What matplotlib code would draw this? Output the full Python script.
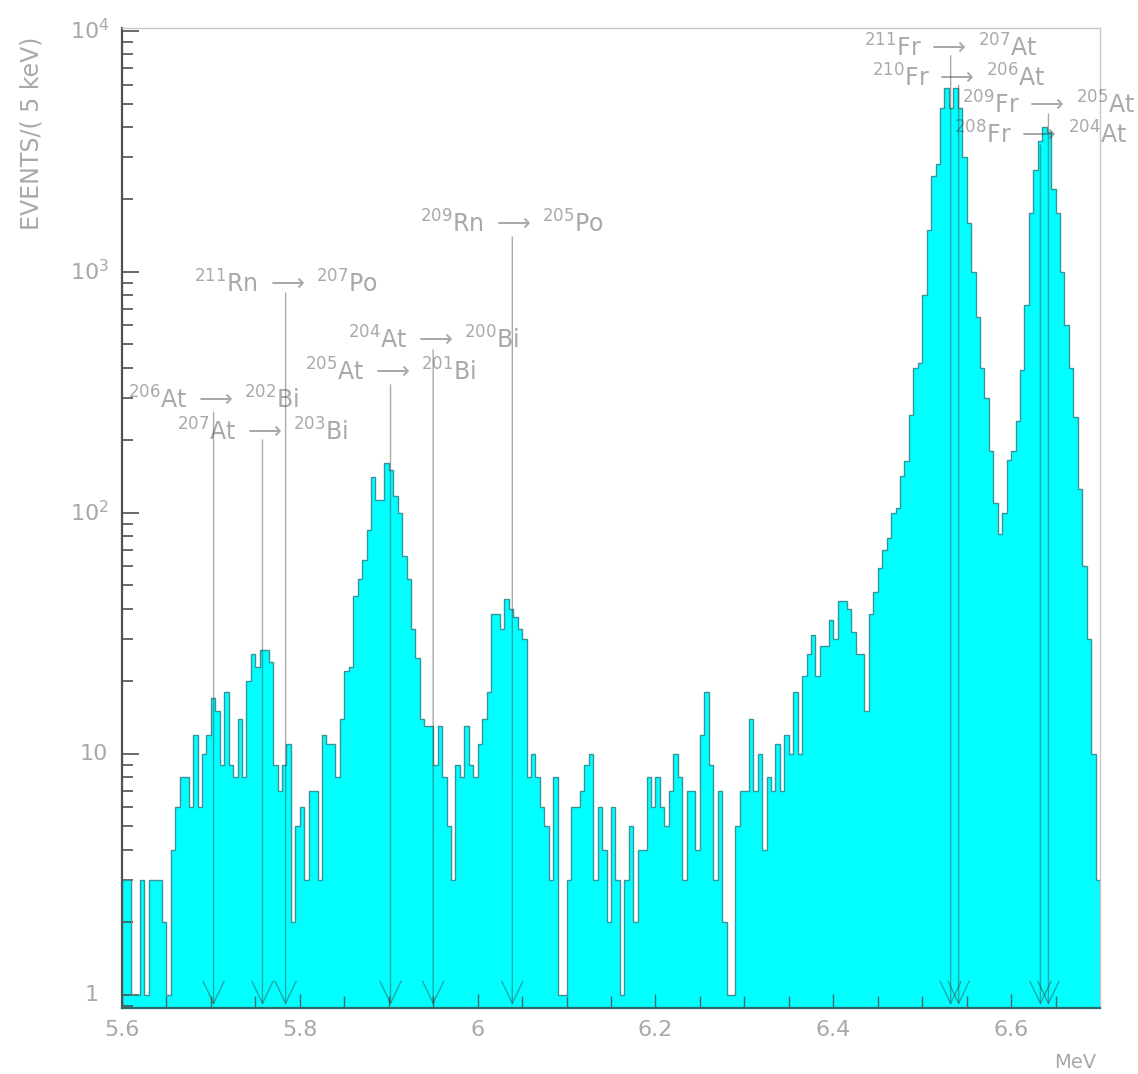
import numpy as np
import matplotlib
matplotlib.use("Agg")
import matplotlib.pyplot as plt
from matplotlib.transforms import blended_transform_factory

# histogram: 5 keV bins from 5.6 to 6.7 MeV
E_MIN = 5.6
E_MAX = 6.7
BIN_W = 0.005

counts = [
    3, 3, 1, 1, 3, 1, 3, 3, 3, 2,          # 5.600
    1, 4, 6, 8, 8, 6, 12, 6, 10, 12,       # 5.650
    17, 15, 9, 18, 9, 8, 14, 8, 20, 26,    # 5.700
    23, 27, 27, 24, 9, 7, 9, 11, 2, 5,     # 5.750
    6, 3, 7, 7, 3, 12, 11, 11, 8, 14,      # 5.800
    22, 23, 45, 53, 64, 85, 141, 113, 113, 161,   # 5.850
    150, 118, 100, 66, 53, 33, 25, 14, 13, 13,    # 5.900
    9, 13, 8, 5, 3, 9, 8, 13, 9, 8,        # 5.950
    11, 14, 18, 38, 38, 33, 44, 40, 37, 33,  # 6.000
    30, 8, 10, 8, 6, 5, 3, 8, 1, 1,        # 6.050
    3, 6, 6, 7, 9, 10, 3, 6, 4, 2,         # 6.100
    6, 3, 1, 3, 5, 2, 4, 4, 8, 6,          # 6.150
    8, 6, 5, 7, 10, 8, 3, 7, 7, 4,         # 6.200
    12, 18, 9, 3, 7, 2, 1, 1, 5, 7,        # 6.250
    7, 14, 7, 10, 4, 8, 7, 11, 7, 12,      # 6.300
    10, 18, 10, 21, 26, 31, 21, 28, 28, 36,  # 6.350
    30, 43, 43, 40, 32, 26, 26, 15, 38, 47,  # 6.400
    59, 70, 79, 100, 105, 142, 164, 255, 400, 420,  # 6.450
    800, 1500, 2500, 2800, 4800, 5800, 4800, 5800, 4800, 3000,  # 6.500
    1600, 1000, 650, 400, 300, 180, 110, 82, 100, 165,  # 6.550
    180, 240, 390, 730, 1750, 2650, 3500, 4000, 3800, 2200,  # 6.600
    1750, 1000, 600, 400, 250, 126, 60, 30, 10, 3,  # 6.650
]

# alpha lines: energy (MeV), label, label height, top of the marker line
line_energy = [5.703, 5.758, 5.784, 5.902, 5.950, 6.039,
               6.532, 6.541, 6.642, 6.633]
line_label = [
    r"$^{206}$At $\longrightarrow$ $^{202}$Bi",
    r"$^{207}$At $\longrightarrow$ $^{203}$Bi",
    r"$^{211}$Rn $\longrightarrow$ $^{207}$Po",
    r"$^{205}$At $\longrightarrow$ $^{201}$Bi",
    r"$^{204}$At $\longrightarrow$ $^{200}$Bi",
    r"$^{209}$Rn $\longrightarrow$ $^{205}$Po",
    r"$^{211}$Fr $\longrightarrow$ $^{207}$At",
    r"$^{210}$Fr $\longrightarrow$ $^{206}$At",
    r"$^{209}$Fr $\longrightarrow$ $^{205}$At",
    r"$^{208}$Fr $\longrightarrow$ $^{204}$At",
]
label_y = [294, 217, 891, 385, 522, 1581, 8500, 6380, 4930, 3700]
line_top = [262, 201, 818, 340, 475, 1397, 7900, 5960, 4530, 3360]

x_ticks = [5.6, 5.8, 6.0, 6.2, 6.4, 6.6]
x_tick_labels = ["5.6", "5.8", "6", "6.2", "6.4", "6.6"]

TXT = "#404040"
TXT_ALPHA = 0.45
GREY = "#a8a8a8"

fig = plt.figure(figsize=(11.38, 10.74), dpi=100)
ax = fig.add_axes([122 / 1138, 1 - 1008 / 1074, 978 / 1138, 980 / 1074])

edges = E_MIN + BIN_W * np.arange(len(counts) + 1)
y_lo, y_hi = 0.88, 1.03e4

ax.stairs(counts, edges, baseline=y_lo, fill=True, color="#00ffff", zorder=1)
ax.stairs(counts, edges, baseline=y_lo, color="#35959a", lw=1.0, zorder=2)

ax.set_yscale("log")
ax.set_xlim(E_MIN, E_MAX)
ax.set_ylim(y_lo, y_hi)

for e, lbl, ly, top in zip(line_energy, line_label, label_y, line_top):
    ax.annotate("", xy=(e, 0.905), xytext=(e, top),
                arrowprops=dict(arrowstyle="->,head_length=0.8,head_width=0.38",
                                color=TXT, alpha=TXT_ALPHA, lw=1.0,
                                shrinkA=0, shrinkB=0, mutation_scale=20),
                zorder=3)
    ax.text(e, ly, lbl, ha="center", va="center", fontsize=17,
            color=TXT, alpha=TXT_ALPHA, zorder=4)

# axes styling
for side in ["top", "right"]:
    ax.spines[side].set_color("#c8c8c8")
    ax.spines[side].set_linewidth(1.0)
ax.spines["left"].set_color("#505050")
ax.spines["left"].set_linewidth(1.6)
ax.spines["bottom"].set_color("#2a6a6a")
ax.spines["bottom"].set_linewidth(1.6)

ax.set_xticks(x_ticks)
ax.set_xticklabels(x_tick_labels)
ax.set_xticks(np.arange(5.65, 6.7, 0.05), minor=True)
ax.tick_params(axis="x", which="both", direction="in", color="#3a6a6a",
               labelcolor=GREY, labelsize=16, pad=9)
ax.tick_params(axis="x", which="major", length=10, width=1)
ax.tick_params(axis="x", which="minor", length=9, width=1)

ax.set_yticks([1, 10, 100, 1000, 10000])
ax.yaxis.set_minor_locator(matplotlib.ticker.LogLocator(base=10, subs=np.arange(2, 10)))
ax.tick_params(axis="y", which="both", direction="in", color="#505050",
               labelleft=False)
ax.tick_params(axis="y", which="major", length=12, width=1.2)
ax.tick_params(axis="y", which="minor", length=8, width=1.2)

# y tick labels placed by hand, like the original
tr = blended_transform_factory(fig.transFigure, ax.transData)
ax.text(92 / 1138, 1, "1", transform=tr, ha="center", va="center",
        fontsize=16, color=GREY)
ax.text(94 / 1138, 10, "10", transform=tr, ha="center", va="center",
        fontsize=16, color=GREY)
for v, s in [(100, "2"), (1000, "3"), (10000, "4")]:
    ax.text(70 / 1138, v, "10$^{" + s + "}$", transform=tr, ha="left",
            va="center", fontsize=16, color=GREY)

fig.text(32 / 1138, 1 - 133 / 1074, "EVENTS/( 5 keV)", rotation=90,
         ha="center", va="center", fontsize=17, color=GREY)
fig.text(1075 / 1138, 1 - 1063 / 1074, "MeV", ha="center", va="center",
         fontsize=14, color=GREY)

fig.savefig("out.png", dpi=100)
